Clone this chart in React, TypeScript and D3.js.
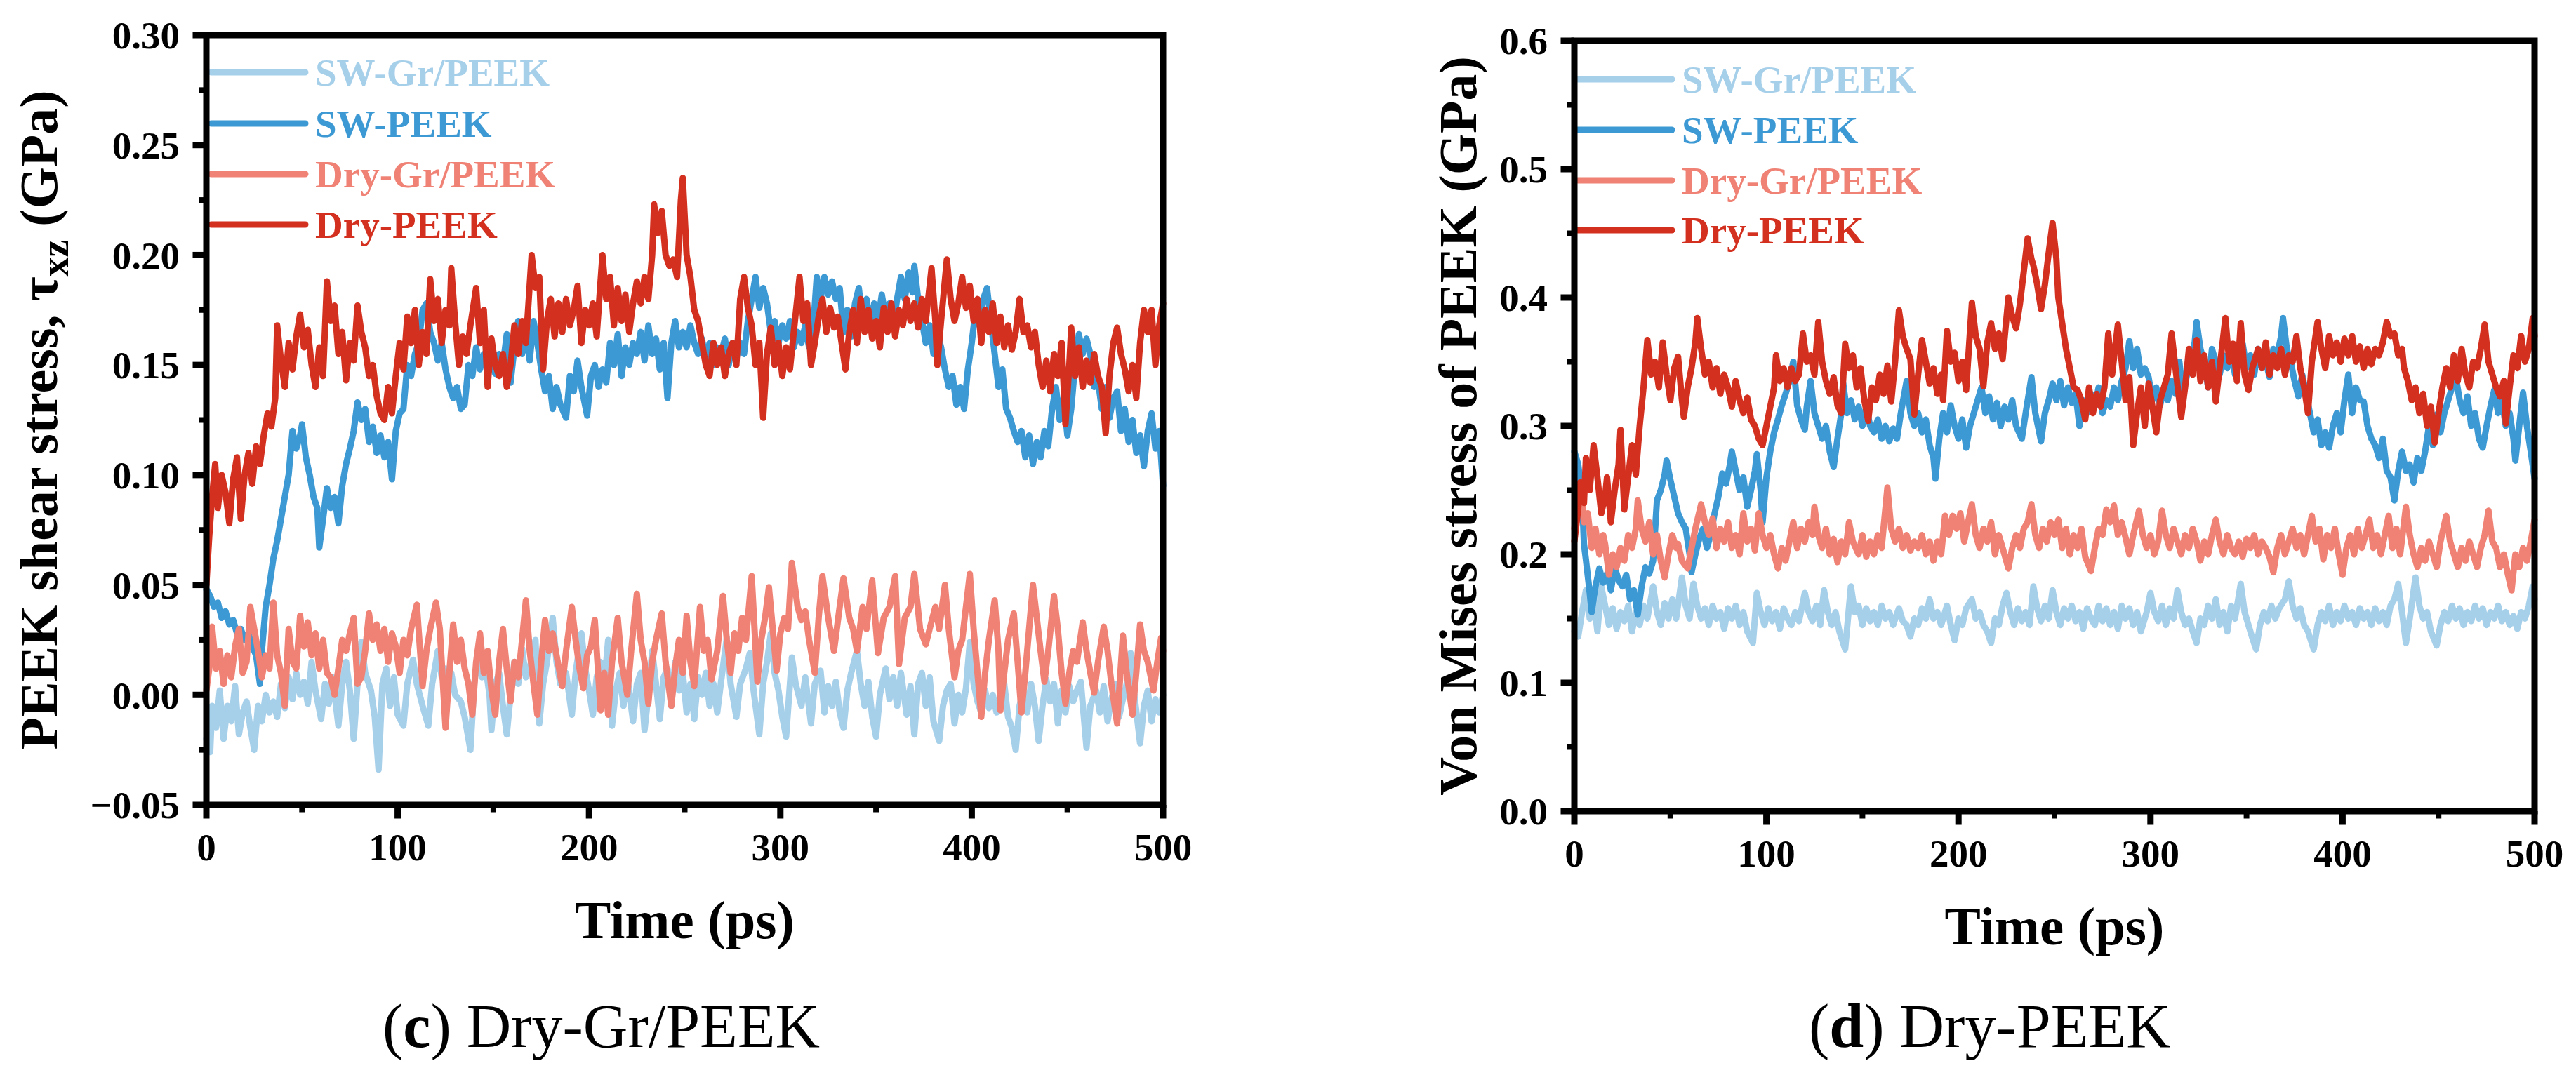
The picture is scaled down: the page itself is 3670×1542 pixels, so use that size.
import { useEffect } from "react";
import type { ReactNode } from "react";
import * as d3 from "d3";

type Pt = [number, number]; // [time ps, stress GPa]

const FONT = "'Liberation Serif', 'Times New Roman', serif";

const SERIES_NAMES = ["SW-Gr/PEEK", "SW-PEEK", "Dry-Gr/PEEK", "Dry-PEEK"];
const SERIES_COLORS = ["#a6cfea", "#3d99d3", "#ef8275", "#d3301f"];

const TIME_TICKS = [0, 100, 200, 300, 400, 500];
const TIME_MINOR = [50, 150, 250, 350, 450];

const SHEAR_TICKS = [-0.05, 0, 0.05, 0.1, 0.15, 0.2, 0.25, 0.3];
const SHEAR_LABELS = ["\u22120.05", "0.00", "0.05", "0.10", "0.15", "0.20", "0.25", "0.30"];
const SHEAR_MINOR = [-0.025, 0.025, 0.075, 0.125, 0.175, 0.225, 0.275];

const MISES_TICKS = [0, 0.1, 0.2, 0.3, 0.4, 0.5, 0.6];
const MISES_LABELS = ["0.0", "0.1", "0.2", "0.3", "0.4", "0.5", "0.6"];
const MISES_MINOR = [0.05, 0.15, 0.25, 0.35, 0.45, 0.55];

// ---- (c) shear stress tau_xz ------------------------------------------
const shearSwGr: Pt[] = [
  [0,-0.02],[2,-0.026],[3,-0.005],[5,-0.015],[7,0.002],[9,-0.02],[11,-0.005],[13,-0.012],[15,0.004],[17,-0.018],[19,-0.008],[21,-0.003],[23,-0.015],[25,-0.025],[27,-0.005],[29,-0.012],[31,0],[33,-0.008],[35,-0.003],[37,-0.01],[39,0.005],[41,-0.006],[43,0.008],[45,-0.002],[47,0.01],[49,0],[51,0.006],[53,-0.004],[55,0.015],[57,0.002],[60,-0.011],[62,0.005],[64,-0.004],[66,0.008],[69,-0.014],[71,0.005],[73,0.015],[75,0.002],[77,-0.02],[79,0.005],[81,0.024],[83,0.01],[86,0.002],[88,-0.01],[90,-0.034],[92,0.005],[94,0.012],[96,-0.005],[98,0.008],[100,-0.009],[103,-0.014],[105,0.005],[108,0.016],[110,0.005],[113,-0.005],[116,-0.014],[118,0.005],[121,0.02],[123,0.008],[125,0.012],[128,0.01],[130,0],[133,-0.003],[135,-0.01],[138,-0.025],[140,0.005],[142,0.019],[144,0.008],[146,0.012],[148,0],[149,-0.016],[151,0.005],[153,0.01],[155,-0.005],[157,-0.018],[159,0],[161,0.015],[163,0.005],[165,0.021],[167,0.008],[169,0.012],[172,0.025],[174,-0.013],[176,0.005],[178,0.015],[181,0.035],[183,0.015],[185,0.005],[188,0.01],[191,-0.009],[193,0.01],[196,0.028],[198,0.012],[200,0.002],[202,-0.009],[204,0.008],[206,0.015],[208,0.005],[210,0.025],[212,-0.014],[214,0.002],[216,0.01],[218,-0.005],[220,0.008],[223,-0.012],[225,0.005],[227,0.01],[229,-0.016],[231,0],[233,0.02],[235,0.005],[237,-0.011],[239,0.008],[241,0.012],[243,-0.005],[245,0.015],[247,0.002],[249,0.01],[251,-0.008],[253,0.005],[255,-0.011],[257,0.008],[259,0],[261,0.01],[263,-0.005],[265,0.005],[267,-0.008],[269,0.006],[272,0.026],[274,0.005],[277,-0.01],[279,0.005],[282,0.012],[284,0.019],[286,0.002],[289,-0.018],[291,0.005],[293,0.015],[295,0.028],[297,0.01],[299,0.002],[301,-0.01],[303,-0.019],[305,0.005],[306,0.017],[308,0.005],[311,-0.005],[313,0.008],[316,-0.013],[318,0.005],[321,0.011],[323,-0.008],[325,0.004],[327,-0.005],[329,0.006],[331,-0.008],[333,-0.015],[335,0.002],[337,0.01],[340,0.02],[342,0.005],[344,-0.005],[346,0.006],[348,-0.01],[350,-0.019],[352,0],[355,0.012],[357,-0.002],[359,0.008],[361,-0.005],[363,0.01],[366,-0.009],[368,0.004],[370,-0.018],[372,0.005],[374,0.01],[376,-0.005],[378,0.008],[380,-0.012],[383,-0.021],[385,-0.005],[387,0.002],[389,0.005],[391,-0.013],[393,0],[395,-0.008],[397,0.003],[399,0.024],[401,0.005],[403,-0.003],[405,-0.008],[407,0.002],[409,-0.006],[411,0],[413,-0.008],[415,-0.002],[417,0.005],[419,-0.01],[421,-0.015],[423,-0.025],[425,-0.005],[427,0.002],[429,-0.008],[431,0.005],[433,-0.005],[435,-0.021],[437,-0.005],[439,0.007],[441,-0.003],[443,0.005],[445,-0.013],[447,0.002],[449,-0.008],[451,0.004],[453,-0.003],[455,0.002],[457,0.006],[460,-0.024],[462,-0.005],[465,0.002],[467,-0.008],[469,0.004],[471,-0.012],[473,-0.002],[475,0.005],[477,-0.01],[479,-0.002],[481,0.005],[483,0.019],[485,0],[488,-0.022],[490,-0.005],[492,0.002],[494,-0.012],[496,-0.002],[498,-0.008],[500,0],
];

const shearSw: Pt[] = [
  [0,0.048],[2,0.045],[4,0.04],[6,0.042],[8,0.035],[10,0.038],[12,0.032],[14,0.034],[16,0.028],[18,0.03],[20,0.025],[22,0.028],[24,0.022],[26,0.018],[28,0.005],[29,0.02],[31,0.04],[33,0.05],[35,0.062],[37,0.07],[39,0.08],[41,0.09],[43,0.1],[45,0.12],[47,0.112],[49,0.118],[50,0.123],[52,0.108],[54,0.1],[56,0.09],[58,0.085],[59,0.067],[61,0.08],[63,0.094],[65,0.085],[67,0.09],[69,0.078],[71,0.095],[73,0.105],[75,0.112],[77,0.12],[79,0.133],[81,0.125],[83,0.13],[85,0.115],[87,0.122],[89,0.11],[91,0.118],[93,0.108],[95,0.115],[97,0.098],[99,0.12],[101,0.128],[103,0.13],[105,0.15],[107,0.145],[109,0.155],[111,0.16],[113,0.175],[115,0.178],[117,0.165],[119,0.16],[121,0.152],[123,0.16],[125,0.148],[127,0.14],[129,0.135],[131,0.14],[133,0.13],[135,0.132],[137,0.15],[139,0.145],[141,0.158],[143,0.148],[145,0.155],[147,0.148],[149,0.152],[151,0.146],[153,0.155],[155,0.15],[157,0.164],[159,0.142],[161,0.158],[163,0.17],[165,0.155],[167,0.165],[169,0.152],[171,0.17],[173,0.16],[175,0.148],[177,0.138],[179,0.145],[181,0.13],[183,0.14],[185,0.132],[188,0.126],[190,0.145],[192,0.138],[194,0.152],[196,0.14],[199,0.127],[201,0.145],[203,0.15],[205,0.14],[207,0.148],[209,0.142],[211,0.16],[213,0.15],[215,0.164],[217,0.145],[219,0.158],[221,0.15],[223,0.16],[225,0.155],[227,0.165],[229,0.152],[231,0.168],[233,0.155],[235,0.162],[237,0.148],[239,0.16],[241,0.135],[243,0.16],[245,0.17],[247,0.158],[249,0.165],[251,0.158],[253,0.168],[255,0.16],[257,0.155],[259,0.162],[261,0.152],[263,0.16],[265,0.15],[267,0.158],[269,0.155],[271,0.162],[273,0.15],[275,0.16],[277,0.153],[279,0.16],[281,0.155],[283,0.17],[285,0.18],[287,0.19],[289,0.176],[291,0.185],[293,0.178],[295,0.165],[297,0.17],[299,0.16],[301,0.168],[303,0.162],[305,0.17],[307,0.158],[309,0.165],[311,0.16],[313,0.168],[315,0.158],[317,0.165],[319,0.19],[321,0.18],[323,0.19],[325,0.182],[327,0.188],[329,0.18],[331,0.185],[333,0.165],[335,0.175],[337,0.163],[339,0.178],[341,0.185],[343,0.17],[345,0.18],[347,0.167],[349,0.178],[351,0.17],[353,0.182],[355,0.172],[357,0.178],[359,0.168],[361,0.18],[363,0.19],[365,0.18],[367,0.192],[369,0.183],[370,0.195],[372,0.18],[374,0.17],[376,0.16],[378,0.168],[380,0.155],[382,0.165],[384,0.158],[386,0.148],[388,0.14],[390,0.145],[392,0.132],[394,0.14],[396,0.13],[398,0.148],[400,0.16],[402,0.175],[404,0.168],[406,0.18],[408,0.185],[410,0.17],[412,0.155],[414,0.14],[416,0.148],[418,0.13],[420,0.126],[422,0.12],[424,0.115],[426,0.12],[428,0.108],[430,0.118],[432,0.105],[434,0.115],[436,0.108],[438,0.12],[440,0.113],[442,0.13],[444,0.14],[446,0.125],[448,0.135],[450,0.118],[452,0.13],[454,0.15],[456,0.164],[458,0.155],[460,0.162],[462,0.155],[464,0.14],[466,0.143],[468,0.13],[470,0.14],[472,0.126],[474,0.135],[476,0.138],[478,0.12],[480,0.13],[482,0.115],[484,0.125],[486,0.11],[488,0.118],[490,0.104],[492,0.12],[494,0.128],[496,0.112],[498,0.12],[500,0.095],
];

const shearDryGr: Pt[] = [
  [0,0.002],[2,0.015],[3,0.031],[5,0.012],[7,0.02],[9,0.005],[11,0.018],[13,0.008],[15,0.022],[17,0.03],[19,0.01],[21,0.015],[23,0.04],[25,0.03],[27,0.02],[29,0.008],[31,0.018],[33,0.012],[35,0.042],[37,0.018],[39,0.01],[41,-0.005],[43,0.03],[45,0.015],[47,0.012],[49,0.036],[51,0.022],[53,0.033],[55,0.018],[57,0.028],[59,0.012],[61,0.025],[63,0.01],[65,0.008],[67,0],[69,0.012],[71,0.025],[73,0.02],[75,0.028],[77,0.035],[79,0.005],[81,0.008],[83,0.02],[85,0.037],[87,0.025],[89,0.032],[91,0.02],[93,0.03],[95,0.015],[97,0.028],[99,0.022],[101,0.01],[103,0.025],[105,0.018],[107,0.03],[110,0.041],[113,0.004],[115,0.02],[117,0.03],[120,0.042],[122,0.03],[123,0.015],[125,-0.015],[127,0.01],[129,0.032],[131,0.015],[133,0.025],[135,0.012],[137,0.005],[139,-0.009],[141,0.015],[143,0.028],[145,0.01],[147,0.02],[149,0.002],[151,-0.009],[153,0.015],[155,0.03],[157,0.012],[159,-0.003],[161,0.015],[163,0.008],[165,0.025],[167,0.043],[169,0.02],[171,0.005],[173,-0.009],[175,0.015],[177,0.034],[179,0.02],[181,0.028],[183,0.018],[186,0.004],[188,0.02],[191,0.04],[193,0.025],[195,0.012],[197,0.003],[199,0.018],[201,0.022],[203,0.034],[206,-0.007],[208,0.01],[210,-0.009],[212,0.015],[215,0.035],[217,0.015],[220,0],[222,0.02],[225,0.046],[227,0.025],[229,0.015],[231,-0.004],[233,0.015],[235,0.025],[238,0.037],[240,0.015],[243,-0.005],[245,0.012],[247,0.025],[249,0.01],[251,0.036],[253,0.015],[255,0.004],[258,0.04],[260,0.02],[262,0.025],[264,0.007],[267,0.02],[270,0.045],[272,0.025],[274,0.01],[276,0.028],[278,0.02],[280,0.035],[282,0.025],[285,0.054],[288,0.006],[290,0.025],[292,0.035],[294,0.049],[296,0.03],[298,0.011],[300,0.028],[302,0.035],[304,0.03],[306,0.06],[309,0.04],[311,0.034],[313,0.038],[315,0.025],[318,0.01],[320,0.035],[322,0.054],[325,0.035],[328,0.02],[331,0.04],[333,0.053],[336,0.035],[338,0.03],[340,0.02],[343,0.04],[345,0.03],[348,0.052],[351,0.019],[354,0.035],[357,0.04],[360,0.054],[362,0.014],[365,0.035],[368,0.04],[370,0.055],[373,0.03],[376,0.023],[378,0.03],[381,0.04],[383,0.03],[386,0.05],[388,0.03],[391,0.008],[393,0.02],[395,0.025],[397,0.04],[399,0.055],[401,0.03],[403,0.01],[405,-0.01],[407,0.01],[409,0.025],[412,0.043],[414,0.02],[415,-0.007],[417,0.01],[419,0.025],[422,0.037],[424,0.015],[426,-0.008],[428,0.01],[430,0.03],[432,0.05],[434,0.035],[436,0.02],[438,0.006],[440,0.02],[443,0.045],[445,0.03],[447,0.01],[449,-0.004],[451,0.01],[453,0.02],[455,0.015],[458,0.033],[460,0.02],[462,0.01],[464,0.001],[466,0.015],[469,0.031],[471,0.02],[473,0.005],[476,-0.013],[479,0.027],[481,0.01],[484,-0.009],[486,0.01],[488,0.032],[490,0.02],[492,0.015],[495,0.002],[497,0.015],[499,0.026],[500,0.02],
];

const shearDry: Pt[] = [
  [0,0.05],[1.5,0.072],[3,0.09],[4.6,0.105],[6,0.085],[8,0.1],[10,0.092],[12,0.078],[14,0.098],[16,0.108],[18,0.08],[20,0.1],[22,0.11],[24,0.096],[26,0.113],[28,0.105],[30,0.118],[32,0.128],[34,0.122],[36,0.135],[37,0.168],[39,0.152],[41,0.14],[43,0.16],[45,0.148],[47,0.163],[49,0.173],[51,0.158],[53,0.166],[55,0.15],[57,0.14],[59,0.158],[61,0.145],[63,0.188],[65,0.17],[67,0.177],[69,0.155],[71,0.165],[73,0.143],[75,0.16],[77,0.152],[79,0.177],[81,0.165],[83,0.158],[85,0.145],[87,0.15],[89,0.136],[91,0.128],[93,0.125],[95,0.14],[97,0.128],[99,0.145],[101,0.16],[103,0.148],[105,0.172],[107,0.16],[109,0.175],[111,0.15],[113,0.165],[115,0.155],[117,0.189],[119,0.17],[121,0.18],[123,0.16],[125,0.175],[127,0.168],[128,0.194],[130,0.17],[132,0.15],[134,0.163],[136,0.155],[138,0.168],[141,0.185],[143,0.16],[145,0.175],[147,0.14],[149,0.162],[151,0.15],[153,0.145],[155,0.155],[157,0.14],[159,0.15],[161,0.168],[163,0.155],[165,0.17],[167,0.16],[170,0.2],[172,0.185],[174,0.19],[176,0.148],[178,0.17],[180,0.18],[182,0.163],[184,0.178],[186,0.165],[188,0.18],[190,0.168],[192,0.175],[194,0.186],[196,0.16],[198,0.175],[200,0.168],[202,0.178],[204,0.163],[207,0.2],[209,0.18],[211,0.19],[213,0.168],[215,0.185],[217,0.17],[219,0.182],[221,0.165],[223,0.178],[225,0.188],[227,0.178],[229,0.19],[231,0.18],[233,0.2],[234,0.223],[236,0.21],[238,0.22],[240,0.2],[242,0.195],[244,0.198],[246,0.19],[248,0.225],[249,0.235],[251,0.2],[253,0.19],[255,0.175],[257,0.17],[259,0.16],[261,0.15],[263,0.145],[265,0.16],[267,0.15],[269,0.158],[271,0.145],[273,0.155],[275,0.16],[277,0.15],[279,0.18],[281,0.19],[283,0.176],[285,0.168],[287,0.15],[289,0.16],[291,0.126],[293,0.155],[295,0.167],[297,0.15],[299,0.16],[301,0.145],[303,0.158],[305,0.148],[307,0.165],[310,0.19],[312,0.17],[314,0.178],[316,0.15],[318,0.16],[320,0.172],[322,0.18],[324,0.165],[326,0.176],[328,0.167],[330,0.172],[332,0.16],[334,0.148],[336,0.165],[338,0.175],[340,0.16],[342,0.18],[344,0.165],[346,0.175],[348,0.162],[350,0.17],[352,0.158],[354,0.176],[356,0.165],[358,0.178],[360,0.163],[362,0.175],[364,0.168],[366,0.18],[368,0.17],[370,0.178],[372,0.167],[374,0.18],[376,0.17],[379,0.194],[381,0.17],[382,0.15],[384,0.17],[387,0.198],[389,0.18],[391,0.17],[393,0.178],[395,0.19],[397,0.176],[399,0.186],[401,0.17],[403,0.18],[405,0.16],[407,0.175],[409,0.165],[411,0.178],[413,0.16],[415,0.172],[417,0.158],[419,0.168],[421,0.157],[423,0.165],[425,0.18],[427,0.165],[429,0.168],[431,0.158],[433,0.165],[435,0.15],[437,0.14],[439,0.152],[441,0.138],[443,0.155],[445,0.145],[447,0.16],[449,0.123],[451,0.15],[452,0.167],[454,0.145],[456,0.158],[458,0.14],[460,0.152],[462,0.142],[464,0.155],[466,0.145],[468,0.14],[470,0.119],[472,0.145],[474,0.16],[476,0.167],[478,0.155],[480,0.148],[482,0.138],[484,0.15],[486,0.135],[488,0.16],[490,0.175],[492,0.165],[494,0.175],[496,0.15],[498,0.168],[500,0.178],
];

// ---- (d) von Mises stress ---------------------------------------------
const misesSwGr: Pt[] = [
  [0,0.14],[2,0.136],[4,0.155],[6,0.172],[8,0.15],[10,0.165],[12,0.14],[14,0.175],[16,0.16],[18,0.145],[20,0.158],[22,0.142],[24,0.155],[26,0.148],[28,0.16],[30,0.14],[32,0.155],[34,0.145],[36,0.16],[38,0.15],[41,0.175],[43,0.155],[45,0.145],[47,0.162],[49,0.15],[51,0.165],[53,0.15],[56,0.182],[58,0.16],[60,0.15],[62,0.177],[64,0.16],[66,0.15],[68,0.158],[70,0.145],[72,0.16],[74,0.15],[76,0.155],[78,0.142],[80,0.158],[82,0.15],[84,0.16],[86,0.145],[88,0.155],[90,0.14],[93,0.131],[95,0.17],[97,0.155],[99,0.145],[101,0.158],[103,0.148],[105,0.155],[107,0.142],[109,0.158],[111,0.15],[113,0.145],[115,0.155],[117,0.148],[120,0.17],[122,0.155],[124,0.148],[126,0.16],[128,0.145],[130,0.172],[132,0.155],[134,0.145],[136,0.155],[138,0.14],[141,0.126],[144,0.175],[146,0.155],[148,0.16],[150,0.145],[152,0.158],[154,0.148],[156,0.155],[158,0.145],[160,0.16],[162,0.15],[164,0.155],[166,0.145],[169,0.158],[171,0.148],[173,0.145],[175,0.136],[177,0.15],[179,0.145],[181,0.158],[183,0.15],[185,0.165],[187,0.15],[189,0.155],[191,0.145],[194,0.16],[196,0.145],[198,0.133],[200,0.15],[202,0.145],[204,0.158],[207,0.165],[209,0.15],[211,0.155],[213,0.145],[215,0.14],[217,0.131],[219,0.15],[221,0.145],[223,0.16],[225,0.17],[227,0.155],[229,0.145],[231,0.158],[233,0.148],[235,0.155],[237,0.145],[239,0.175],[241,0.158],[243,0.148],[245,0.16],[247,0.15],[249,0.172],[251,0.155],[253,0.145],[255,0.158],[257,0.15],[259,0.16],[261,0.148],[263,0.155],[265,0.142],[267,0.158],[269,0.15],[271,0.145],[273,0.16],[275,0.148],[277,0.158],[279,0.145],[281,0.155],[283,0.142],[285,0.16],[287,0.15],[289,0.158],[291,0.145],[293,0.155],[295,0.14],[298,0.155],[300,0.17],[302,0.155],[304,0.148],[306,0.16],[308,0.145],[310,0.158],[312,0.15],[314,0.172],[316,0.155],[318,0.145],[320,0.15],[322,0.14],[324,0.131],[326,0.15],[328,0.145],[330,0.16],[332,0.15],[334,0.165],[336,0.145],[338,0.155],[340,0.14],[342,0.16],[344,0.15],[347,0.177],[349,0.155],[351,0.145],[353,0.135],[355,0.126],[357,0.145],[359,0.155],[361,0.148],[363,0.16],[365,0.15],[367,0.158],[370,0.165],[372,0.179],[374,0.16],[376,0.15],[378,0.158],[380,0.145],[382,0.14],[385,0.126],[387,0.145],[389,0.155],[391,0.148],[393,0.16],[395,0.145],[397,0.155],[399,0.148],[401,0.16],[403,0.15],[405,0.155],[407,0.145],[409,0.158],[411,0.15],[413,0.155],[415,0.145],[417,0.158],[419,0.148],[421,0.155],[423,0.145],[425,0.16],[427,0.165],[429,0.177],[431,0.155],[433,0.131],[435,0.15],[438,0.182],[440,0.16],[442,0.15],[444,0.155],[446,0.14],[449,0.129],[451,0.145],[453,0.155],[455,0.148],[457,0.16],[459,0.15],[461,0.158],[463,0.145],[465,0.155],[467,0.148],[469,0.16],[471,0.15],[473,0.158],[475,0.145],[477,0.155],[479,0.15],[481,0.16],[483,0.148],[485,0.155],[487,0.145],[489,0.152],[491,0.142],[493,0.155],[495,0.15],[497,0.16],[499,0.175],[500,0.165],
];

const misesSw: Pt[] = [
  [0,0.28],[2,0.27],[4,0.245],[5,0.208],[6,0.196],[8,0.17],[9,0.155],[11,0.175],[13,0.189],[15,0.178],[17,0.185],[19,0.172],[21,0.19],[23,0.18],[25,0.175],[27,0.184],[29,0.165],[31,0.172],[33,0.153],[35,0.175],[37,0.19],[39,0.185],[41,0.195],[43,0.242],[45,0.25],[47,0.262],[48,0.273],[50,0.258],[52,0.245],[54,0.232],[56,0.225],[58,0.22],[60,0.2],[61,0.186],[63,0.2],[65,0.212],[67,0.22],[69,0.205],[71,0.215],[73,0.232],[75,0.245],[77,0.263],[79,0.255],[81,0.27],[82,0.28],[84,0.265],[86,0.25],[88,0.26],[90,0.237],[92,0.25],[94,0.265],[95,0.278],[97,0.25],[98,0.225],[100,0.26],[102,0.28],[104,0.295],[106,0.305],[108,0.316],[110,0.325],[112,0.335],[114,0.35],[116,0.316],[118,0.305],[120,0.297],[121,0.315],[123,0.335],[125,0.31],[127,0.3],[129,0.29],[131,0.3],[133,0.28],[135,0.268],[137,0.29],[139,0.31],[140,0.333],[142,0.31],[144,0.32],[146,0.305],[148,0.315],[150,0.3],[152,0.315],[154,0.3],[156,0.295],[158,0.305],[160,0.29],[162,0.3],[164,0.288],[166,0.298],[168,0.29],[170,0.31],[173,0.335],[175,0.31],[177,0.3],[179,0.31],[181,0.295],[183,0.305],[185,0.285],[187,0.275],[188,0.259],[190,0.29],[192,0.31],[194,0.295],[196,0.316],[198,0.3],[200,0.29],[202,0.305],[204,0.283],[206,0.3],[208,0.31],[210,0.32],[212,0.33],[214,0.31],[216,0.323],[218,0.305],[220,0.318],[222,0.3],[224,0.315],[226,0.305],[228,0.32],[230,0.3],[233,0.29],[235,0.31],[238,0.338],[240,0.31],[243,0.288],[245,0.31],[247,0.32],[249,0.333],[251,0.32],[253,0.335],[255,0.316],[257,0.33],[259,0.318],[261,0.325],[263,0.3],[265,0.32],[267,0.31],[269,0.325],[271,0.315],[273,0.33],[275,0.31],[277,0.32],[279,0.315],[281,0.33],[283,0.32],[285,0.335],[287,0.345],[289,0.366],[291,0.345],[293,0.36],[295,0.34],[297,0.345],[299,0.338],[301,0.32],[303,0.33],[305,0.316],[307,0.328],[309,0.32],[311,0.335],[313,0.325],[315,0.35],[317,0.324],[319,0.34],[321,0.35],[323,0.365],[324,0.381],[326,0.36],[328,0.35],[330,0.33],[332,0.36],[334,0.35],[336,0.34],[338,0.355],[340,0.345],[342,0.36],[344,0.34],[346,0.355],[348,0.364],[350,0.345],[352,0.355],[354,0.34],[356,0.36],[358,0.345],[360,0.35],[362,0.338],[364,0.36],[366,0.355],[368,0.37],[369,0.384],[371,0.36],[373,0.35],[375,0.335],[377,0.323],[379,0.34],[381,0.325],[383,0.31],[385,0.295],[387,0.305],[389,0.285],[391,0.295],[393,0.283],[395,0.3],[397,0.31],[399,0.295],[401,0.32],[403,0.34],[405,0.31],[407,0.33],[409,0.32],[411,0.319],[413,0.3],[415,0.29],[417,0.285],[419,0.275],[421,0.29],[423,0.265],[425,0.26],[427,0.242],[429,0.265],[431,0.28],[433,0.265],[435,0.27],[437,0.256],[439,0.275],[441,0.265],[443,0.28],[445,0.3],[447,0.285],[449,0.309],[451,0.295],[453,0.31],[455,0.32],[457,0.33],[459,0.338],[461,0.32],[463,0.31],[465,0.323],[467,0.3],[469,0.31],[471,0.29],[473,0.283],[475,0.3],[477,0.315],[479,0.328],[481,0.31],[483,0.32],[485,0.3],[487,0.31],[489,0.29],[490,0.273],[492,0.3],[494,0.326],[496,0.3],[498,0.28],[500,0.259],
];

const misesDryGr: Pt[] = [
  [0,0.22],[2,0.245],[3,0.256],[5,0.225],[7,0.232],[9,0.205],[11,0.22],[13,0.2],[15,0.215],[16,0.208],[18,0.184],[20,0.2],[22,0.19],[24,0.205],[26,0.195],[28,0.215],[30,0.205],[32,0.22],[33,0.242],[35,0.22],[37,0.21],[39,0.225],[41,0.2],[43,0.215],[45,0.195],[47,0.182],[49,0.2],[51,0.215],[53,0.205],[54,0.208],[56,0.195],[59,0.189],[61,0.205],[63,0.22],[66,0.239],[68,0.225],[70,0.215],[72,0.228],[74,0.205],[76,0.22],[78,0.21],[80,0.225],[82,0.205],[84,0.215],[86,0.2],[88,0.232],[90,0.21],[92,0.22],[94,0.203],[96,0.232],[98,0.215],[100,0.205],[102,0.215],[104,0.2],[106,0.189],[108,0.205],[110,0.195],[112,0.21],[114,0.225],[116,0.205],[118,0.22],[120,0.21],[122,0.225],[124,0.215],[125,0.237],[127,0.215],[129,0.205],[131,0.22],[133,0.2],[135,0.212],[137,0.194],[139,0.21],[141,0.2],[143,0.225],[145,0.21],[148,0.2],[150,0.215],[152,0.198],[154,0.21],[156,0.2],[158,0.215],[160,0.205],[163,0.252],[165,0.22],[167,0.21],[169,0.22],[171,0.205],[173,0.215],[175,0.203],[177,0.21],[179,0.205],[181,0.215],[183,0.2],[185,0.21],[187,0.195],[189,0.21],[191,0.2],[193,0.23],[195,0.215],[197,0.23],[199,0.22],[201,0.232],[203,0.21],[205,0.225],[207,0.239],[209,0.215],[211,0.205],[213,0.22],[215,0.21],[217,0.225],[219,0.2],[221,0.215],[223,0.205],[226,0.189],[228,0.205],[230,0.215],[232,0.205],[234,0.22],[236,0.225],[238,0.239],[240,0.215],[242,0.205],[244,0.22],[246,0.21],[248,0.225],[250,0.215],[252,0.227],[254,0.205],[256,0.22],[258,0.2],[260,0.215],[262,0.205],[264,0.22],[266,0.198],[269,0.187],[271,0.205],[273,0.22],[275,0.215],[277,0.235],[279,0.225],[281,0.238],[283,0.215],[285,0.225],[287,0.213],[289,0.2],[291,0.215],[294,0.234],[296,0.215],[298,0.205],[300,0.215],[302,0.2],[304,0.21],[306,0.234],[308,0.215],[310,0.205],[312,0.22],[314,0.21],[316,0.2],[318,0.215],[320,0.205],[322,0.22],[324,0.21],[326,0.195],[328,0.21],[330,0.2],[332,0.215],[334,0.227],[336,0.21],[338,0.2],[340,0.215],[342,0.205],[344,0.2],[346,0.21],[348,0.198],[350,0.212],[352,0.205],[354,0.215],[356,0.2],[358,0.21],[360,0.205],[362,0.198],[364,0.186],[366,0.205],[368,0.215],[370,0.2],[372,0.21],[374,0.22],[376,0.205],[378,0.215],[380,0.2],[382,0.215],[384,0.23],[386,0.21],[388,0.22],[390,0.196],[392,0.215],[394,0.205],[396,0.22],[398,0.2],[400,0.184],[402,0.205],[404,0.215],[406,0.2],[408,0.22],[410,0.205],[412,0.215],[414,0.227],[416,0.205],[418,0.215],[420,0.2],[422,0.215],[424,0.23],[426,0.205],[428,0.22],[430,0.2],[433,0.237],[435,0.215],[437,0.2],[439,0.19],[441,0.205],[443,0.195],[445,0.21],[447,0.2],[449,0.19],[451,0.21],[454,0.23],[456,0.21],[458,0.2],[460,0.19],[462,0.205],[464,0.195],[466,0.21],[468,0.2],[470,0.19],[472,0.205],[474,0.215],[476,0.234],[478,0.21],[480,0.205],[482,0.19],[484,0.2],[486,0.185],[488,0.172],[490,0.2],[492,0.19],[494,0.205],[496,0.195],[498,0.21],[500,0.227],
];

const misesDry: Pt[] = [
  [0,0.21],[2,0.235],[3,0.256],[5,0.24],[6,0.275],[8,0.25],[10,0.285],[12,0.26],[14,0.232],[16,0.245],[17,0.26],[19,0.225],[21,0.25],[23,0.27],[24,0.297],[26,0.235],[28,0.26],[30,0.285],[32,0.262],[34,0.3],[36,0.33],[38,0.367],[40,0.34],[42,0.35],[44,0.33],[46,0.365],[48,0.34],[50,0.32],[52,0.345],[54,0.354],[56,0.32],[57,0.307],[59,0.33],[61,0.345],[63,0.365],[64,0.384],[66,0.36],[68,0.34],[70,0.35],[72,0.33],[74,0.345],[76,0.325],[78,0.34],[80,0.33],[82,0.315],[84,0.335],[86,0.32],[88,0.31],[90,0.322],[92,0.305],[94,0.3],[96,0.29],[98,0.285],[100,0.3],[102,0.315],[104,0.33],[105,0.355],[107,0.335],[109,0.345],[111,0.33],[113,0.345],[115,0.335],[117,0.34],[119,0.372],[121,0.35],[123,0.355],[125,0.34],[127,0.381],[129,0.35],[131,0.335],[133,0.325],[135,0.338],[137,0.316],[139,0.31],[141,0.364],[143,0.345],[145,0.355],[147,0.33],[149,0.345],[151,0.32],[153,0.304],[155,0.33],[157,0.32],[159,0.34],[161,0.325],[163,0.347],[165,0.319],[167,0.35],[169,0.39],[171,0.37],[173,0.36],[175,0.352],[177,0.309],[179,0.34],[181,0.367],[183,0.35],[185,0.333],[187,0.345],[189,0.325],[191,0.34],[192,0.32],[194,0.374],[196,0.35],[198,0.357],[200,0.335],[202,0.35],[204,0.328],[207,0.396],[209,0.37],[211,0.36],[213,0.331],[215,0.365],[217,0.38],[219,0.36],[221,0.372],[223,0.352],[226,0.4],[228,0.385],[230,0.376],[232,0.395],[234,0.42],[236,0.446],[238,0.43],[239,0.425],[241,0.41],[243,0.391],[245,0.41],[247,0.435],[249,0.458],[251,0.43],[252,0.4],[254,0.38],[256,0.36],[258,0.345],[260,0.33],[262,0.328],[264,0.32],[266,0.305],[268,0.33],[270,0.31],[272,0.325],[274,0.315],[276,0.33],[278,0.372],[280,0.34],[283,0.379],[285,0.35],[287,0.32],[289,0.338],[291,0.285],[293,0.31],[295,0.33],[297,0.3],[299,0.333],[301,0.315],[303,0.295],[305,0.32],[307,0.33],[309,0.34],[311,0.372],[313,0.345],[316,0.307],[318,0.33],[320,0.36],[322,0.34],[324,0.367],[326,0.335],[328,0.355],[330,0.33],[332,0.35],[334,0.319],[336,0.345],[339,0.384],[341,0.35],[343,0.364],[345,0.335],[347,0.38],[349,0.34],[351,0.328],[353,0.345],[356,0.36],[358,0.345],[360,0.365],[362,0.34],[364,0.355],[366,0.345],[368,0.36],[370,0.34],[372,0.355],[374,0.35],[376,0.37],[378,0.345],[380,0.33],[382,0.31],[384,0.35],[387,0.381],[389,0.36],[391,0.345],[393,0.37],[395,0.355],[397,0.365],[399,0.35],[401,0.368],[403,0.355],[405,0.37],[407,0.35],[409,0.362],[411,0.345],[413,0.36],[415,0.348],[417,0.36],[419,0.355],[421,0.365],[423,0.381],[425,0.37],[427,0.372],[429,0.355],[431,0.36],[432,0.345],[434,0.335],[436,0.32],[438,0.33],[440,0.31],[442,0.325],[444,0.3],[446,0.315],[448,0.287],[450,0.31],[452,0.33],[454,0.345],[456,0.33],[458,0.355],[460,0.335],[462,0.36],[464,0.34],[466,0.33],[468,0.35],[470,0.345],[472,0.36],[474,0.379],[476,0.35],[478,0.34],[480,0.33],[482,0.323],[484,0.335],[485,0.302],[487,0.33],[489,0.355],[491,0.345],[493,0.37],[495,0.35],[497,0.36],[499,0.384],[500,0.37],
];

const AXIS_W = 9;
const MAJOR = 15;
const MINOR = 6;

interface PanelProps {
  left: number;
  right: number;
  top: number;
  bottom: number;
  yDomain: [number, number];
  yTicks: number[];
  yLabels: string[];
  yMinor: number[];
  series: Pt[][];
  legendX: number;
  legendRows: number[];
  titleX: number;
  title: ReactNode;
  captionX: number;
  captionTag: string;
  captionText: string;
}

function Panel(p: PanelProps) {
  const x = d3.scaleLinear().domain([0, 500]).range([p.left, p.right]);
  const y = d3.scaleLinear().domain(p.yDomain).range([p.bottom, p.top]);
  const line = d3
    .line<Pt>()
    .x((d) => x(d[0]))
    .y((d) => y(d[1]));
  const outL = p.left - AXIS_W / 2;
  const outB = p.bottom + AXIS_W / 2;
  const midY = (p.top + p.bottom) / 2;
  const midX = (p.left + p.right) / 2;

  return (
    <g>
      {/* data lines, drawn in legend order so Dry-PEEK ends on top */}
      {p.series.map((s, i) => (
        <path
          key={SERIES_NAMES[i]}
          d={line(s) ?? ""}
          fill="none"
          stroke={SERIES_COLORS[i]}
          strokeWidth={9}
          strokeLinejoin="round"
          strokeLinecap="round"
        />
      ))}

      {/* legend */}
      {SERIES_NAMES.map((name, i) => (
        <g key={name}>
          <line
            x1={p.legendX}
            x2={p.legendX + 134}
            y1={p.legendRows[i]}
            y2={p.legendRows[i]}
            stroke={SERIES_COLORS[i]}
            strokeWidth={9}
            strokeLinecap="round"
          />
          <text
            x={p.legendX + 148}
            y={p.legendRows[i] + 19}
            fontSize={55}
            fontWeight="bold"
            fill={SERIES_COLORS[i]}
          >
            {name}
          </text>
        </g>
      ))}

      {/* frame */}
      <rect
        x={p.left}
        y={p.top}
        width={p.right - p.left}
        height={p.bottom - p.top}
        fill="none"
        stroke="#000"
        strokeWidth={AXIS_W}
      />

      {/* y ticks */}
      {p.yTicks.map((v, i) => (
        <g key={`y${v}`}>
          <line x1={outL - MAJOR} x2={p.left} y1={y(v)} y2={y(v)} stroke="#000" strokeWidth={9} />
          <text
            x={p.left - 38}
            y={y(v)}
            dy="0.35em"
            textAnchor="end"
            fontSize={55}
            fontWeight="bold"
          >
            {p.yLabels[i]}
          </text>
        </g>
      ))}
      {p.yMinor.map((v) => (
        <line key={`ym${v}`} x1={outL - MINOR} x2={p.left} y1={y(v)} y2={y(v)} stroke="#000" strokeWidth={8} />
      ))}

      {/* x ticks */}
      {TIME_TICKS.map((t) => (
        <g key={`x${t}`}>
          <line x1={x(t)} x2={x(t)} y1={p.bottom} y2={outB + MAJOR} stroke="#000" strokeWidth={9} />
          <text x={x(t)} y={p.bottom + 79} textAnchor="middle" fontSize={55} fontWeight="bold">
            {t}
          </text>
        </g>
      ))}
      {TIME_MINOR.map((t) => (
        <line key={`xm${t}`} x1={x(t)} x2={x(t)} y1={p.bottom} y2={outB + MINOR} stroke="#000" strokeWidth={8} />
      ))}

      {/* axis titles */}
      <text x={midX} y={p.bottom + 190} textAnchor="middle" fontSize={77} fontWeight="bold">
        Time (ps)
      </text>
      <text
        transform={`translate(${p.titleX},${midY}) rotate(-90)`}
        textAnchor="middle"
        fontSize={76}
        fontWeight="bold"
      >
        {p.title}
      </text>

      {/* sub-figure caption */}
      <text x={p.captionX} y={1492} fontSize={88}>
        {"("}
        <tspan fontWeight="bold">{p.captionTag}</tspan>
        {") " + p.captionText}
      </text>
    </g>
  );
}

export default function App() {
  useEffect(() => {
    document.body.style.margin = "0";
  }, []);

  return (
    <svg
      width={3670}
      height={1542}
      viewBox="0 0 3670 1542"
      style={{ display: "block", background: "#fff" }}
      fontFamily={FONT}
    >
      <Panel
        left={294}
        right={1657}
        top={50}
        bottom={1147}
        yDomain={[-0.05, 0.3]}
        yTicks={SHEAR_TICKS}
        yLabels={SHEAR_LABELS}
        yMinor={SHEAR_MINOR}
        series={[shearSwGr, shearSw, shearDryGr, shearDry]}
        legendX={301}
        legendRows={[103, 176, 248, 320]}
        titleX={81}
        title={
          <>
            {"PEEK shear stress, \u03c4"}
            <tspan fontSize={56} dy={16}>xz</tspan>
            <tspan dy={-16}>{" (GPa)"}</tspan>
          </>
        }
        captionX={545}
        captionTag="c"
        captionText="Dry-Gr/PEEK"
      />
      <Panel
        left={2243}
        right={3611}
        top={58}
        bottom={1156}
        yDomain={[0, 0.6]}
        yTicks={MISES_TICKS}
        yLabels={MISES_LABELS}
        yMinor={MISES_MINOR}
        series={[misesSwGr, misesSw, misesDryGr, misesDry]}
        legendX={2248}
        legendRows={[113, 185, 257, 328]}
        titleX={2103}
        title="Von Mises stress of PEEK (GPa)"
        captionX={2577}
        captionTag="d"
        captionText="Dry-PEEK"
      />
    </svg>
  );
}
